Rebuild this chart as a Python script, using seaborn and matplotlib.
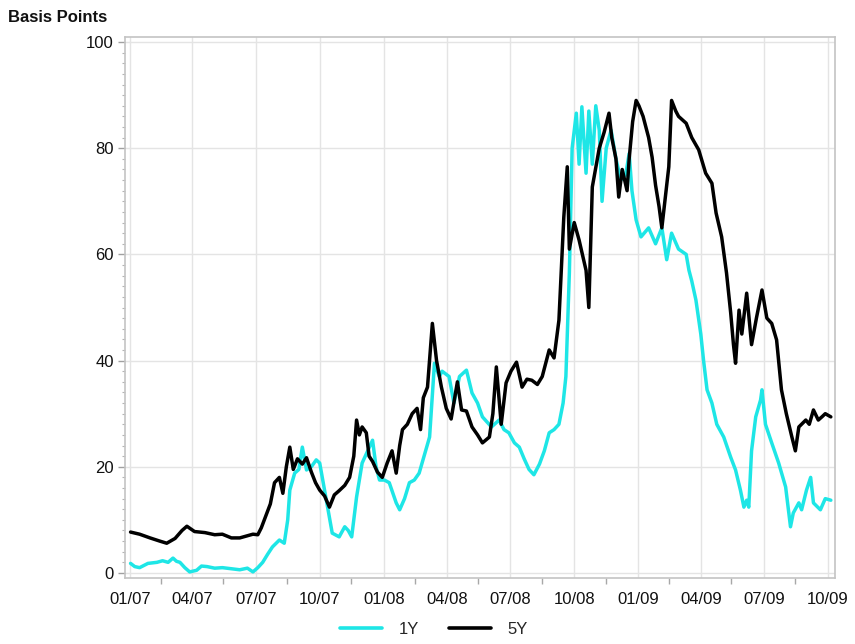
import matplotlib
matplotlib.use("Agg")
import matplotlib.pyplot as plt
import matplotlib.dates as mdates
from matplotlib.ticker import MultipleLocator
import pandas as pd
import seaborn as sns

# 1-year spread, basis points
dates_1y = [
    "2007-01-02", "2007-01-08", "2007-01-15", "2007-01-27", "2007-02-09", "2007-02-17",
    "2007-02-25", "2007-03-04", "2007-03-09", "2007-03-14", "2007-03-21", "2007-03-28",
    "2007-04-07", "2007-04-14", "2007-04-22", "2007-05-03", "2007-05-14", "2007-05-27",
    "2007-06-08", "2007-06-19", "2007-06-27", "2007-07-04", "2007-07-11", "2007-07-18",
    "2007-07-25", "2007-08-04", "2007-08-11", "2007-08-16", "2007-08-19", "2007-08-26",
    "2007-09-01", "2007-09-06", "2007-09-12", "2007-09-19", "2007-09-26", "2007-10-01",
    "2007-10-06", "2007-10-11", "2007-10-19", "2007-10-29", "2007-11-06", "2007-11-11",
    "2007-11-16", "2007-11-23", "2007-12-01", "2007-12-09", "2007-12-16", "2007-12-21",
    "2007-12-26", "2008-01-02", "2008-01-09", "2008-01-19", "2008-01-24", "2008-01-31",
    "2008-02-07", "2008-02-14", "2008-02-21", "2008-02-28", "2008-03-07", "2008-03-14",
    "2008-03-21", "2008-03-25", "2008-04-04", "2008-04-11", "2008-04-19", "2008-04-29",
    "2008-05-07", "2008-05-15", "2008-05-22", "2008-06-04", "2008-06-15", "2008-06-22",
    "2008-06-29", "2008-07-07", "2008-07-14", "2008-07-21", "2008-07-28", "2008-08-04",
    "2008-08-12", "2008-08-19", "2008-08-26", "2008-09-02", "2008-09-09", "2008-09-15",
    "2008-09-19", "2008-09-24", "2008-09-28", "2008-10-04", "2008-10-08", "2008-10-12",
    "2008-10-18", "2008-10-22", "2008-10-27", "2008-11-01", "2008-11-06", "2008-11-10",
    "2008-11-16", "2008-11-23", "2008-11-30", "2008-12-07", "2008-12-14", "2008-12-19",
    "2008-12-23", "2008-12-29", "2009-01-05", "2009-01-16", "2009-01-26", "2009-02-04",
    "2009-02-11", "2009-02-18", "2009-02-28", "2009-03-11", "2009-03-15", "2009-03-19",
    "2009-03-25", "2009-04-01", "2009-04-05", "2009-04-10", "2009-04-17", "2009-04-24",
    "2009-05-04", "2009-05-14", "2009-05-21", "2009-05-28", "2009-06-02", "2009-06-06",
    "2009-06-09", "2009-06-13", "2009-06-19", "2009-06-26", "2009-06-28", "2009-07-03",
    "2009-07-12", "2009-07-22", "2009-08-01", "2009-08-05", "2009-08-08", "2009-08-12",
    "2009-08-20", "2009-08-24", "2009-08-31", "2009-09-06", "2009-09-10", "2009-09-20",
    "2009-09-27", "2009-10-05",
]
values_1y = [
    1.8, 1.2, 1.0, 1.8, 2.0, 2.3,
    2.0, 2.8, 2.2, 2.0, 1.0, 0.2,
    0.5, 1.3, 1.2, 0.9, 1.0, 0.8,
    0.6, 0.9, 0.2, 1.0, 2.0, 3.5,
    4.9, 6.2, 5.6, 10.0, 15.6, 18.8,
    19.5, 23.7, 19.4, 20.0, 21.3, 20.7,
    17.0, 13.2, 7.5, 6.8, 8.7, 8.0,
    6.8, 14.3, 20.7, 23.0, 25.0, 20.0,
    17.5, 17.5, 17.0, 13.2, 11.9, 14.0,
    17.0, 17.5, 18.8, 22.0, 25.6, 39.5,
    37.0, 38.0, 37.0, 32.0, 37.0, 38.2,
    33.9, 32.0, 29.4, 27.5, 28.8, 27.0,
    26.4, 24.5, 23.7, 21.5, 19.5, 18.5,
    20.5, 23.0, 26.4, 27.0, 28.0, 32.0,
    37.0, 56.5, 80.0, 86.6, 77.0, 87.8,
    75.3, 87.0, 77.0, 88.0, 83.4, 70.0,
    80.0, 83.4, 78.0, 74.0, 75.0, 79.0,
    72.0, 66.5, 63.3, 65.0, 62.0, 65.0,
    59.0, 64.0, 61.0, 60.0, 57.0, 55.0,
    51.4, 45.0, 40.0, 34.5, 32.0, 28.0,
    25.6, 21.8, 19.4, 15.6, 12.4, 13.7,
    12.4, 23.0, 29.4, 32.6, 34.5, 28.0,
    24.5, 20.7, 16.2, 12.0, 8.7, 11.3,
    13.2, 11.9, 15.6, 18.0, 13.2, 11.9,
    14.0, 13.7,
]

# 5-year spread, basis points
dates_5y = [
    "2007-01-02", "2007-01-15", "2007-01-30", "2007-02-13", "2007-02-23", "2007-03-07",
    "2007-03-17", "2007-03-24", "2007-04-04", "2007-04-19", "2007-05-03", "2007-05-14",
    "2007-05-27", "2007-06-08", "2007-06-19", "2007-06-27", "2007-07-04", "2007-07-09",
    "2007-07-17", "2007-07-22", "2007-07-28", "2007-08-04", "2007-08-09", "2007-08-14",
    "2007-08-19", "2007-08-24", "2007-08-30", "2007-09-06", "2007-09-12", "2007-09-19",
    "2007-09-25", "2007-10-01", "2007-10-08", "2007-10-15", "2007-10-22", "2007-10-29",
    "2007-11-06", "2007-11-13", "2007-11-19", "2007-11-23", "2007-11-27", "2007-12-01",
    "2007-12-07", "2007-12-11", "2007-12-16", "2007-12-23", "2007-12-30", "2008-01-06",
    "2008-01-13", "2008-01-19", "2008-01-24", "2008-01-28", "2008-02-04", "2008-02-11",
    "2008-02-18", "2008-02-23", "2008-02-27", "2008-03-04", "2008-03-11", "2008-03-17",
    "2008-03-24", "2008-03-31", "2008-04-07", "2008-04-16", "2008-04-22", "2008-04-29",
    "2008-05-07", "2008-05-15", "2008-05-22", "2008-06-01", "2008-06-06", "2008-06-11",
    "2008-06-18", "2008-06-25", "2008-07-02", "2008-07-10", "2008-07-18", "2008-07-25",
    "2008-08-01", "2008-08-09", "2008-08-16", "2008-08-26", "2008-09-02", "2008-09-09",
    "2008-09-16", "2008-09-21", "2008-09-24", "2008-10-01", "2008-10-08", "2008-10-18",
    "2008-10-22", "2008-10-27", "2008-11-06", "2008-11-13", "2008-11-20", "2008-11-24",
    "2008-11-30", "2008-12-04", "2008-12-09", "2008-12-16", "2008-12-19", "2008-12-24",
    "2008-12-29", "2009-01-02", "2009-01-08", "2009-01-12", "2009-01-16", "2009-01-21",
    "2009-01-26", "2009-01-31", "2009-02-04", "2009-02-10", "2009-02-14", "2009-02-18",
    "2009-02-24", "2009-02-28", "2009-03-11", "2009-03-19", "2009-03-29", "2009-04-08",
    "2009-04-17", "2009-04-23", "2009-05-01", "2009-05-08", "2009-05-14", "2009-05-18",
    "2009-05-21", "2009-05-26", "2009-05-30", "2009-06-06", "2009-06-13", "2009-06-20",
    "2009-06-28", "2009-07-05", "2009-07-12", "2009-07-19", "2009-07-26", "2009-08-02",
    "2009-08-10", "2009-08-15", "2009-08-20", "2009-08-30", "2009-09-04", "2009-09-10",
    "2009-09-17", "2009-09-23", "2009-09-27", "2009-10-05",
]
values_5y = [
    7.7, 7.3, 6.6, 6.0, 5.6, 6.5,
    8.0, 8.8, 7.8, 7.6, 7.2, 7.3,
    6.6, 6.6, 7.0, 7.3, 7.2, 8.5,
    11.3, 13.0, 17.0, 18.0, 15.0, 20.0,
    23.7, 19.5, 21.5, 20.5, 21.7, 19.0,
    17.0, 15.6, 14.5, 12.4, 14.7, 15.5,
    16.5, 18.0, 22.0, 28.8, 26.0, 27.5,
    26.4, 22.0, 21.0, 19.0, 18.0, 20.7,
    23.0, 18.8, 24.0, 27.0, 28.0, 30.0,
    31.0, 27.0, 33.0, 35.0, 47.0, 40.0,
    35.0, 31.0, 29.0, 36.0, 30.7, 30.5,
    27.5, 26.0, 24.5, 25.6, 30.0, 38.8,
    28.0, 35.8, 38.0, 39.7, 35.0, 36.5,
    36.3, 35.5, 37.0, 42.0, 40.5, 47.6,
    67.0, 76.5, 61.0, 66.0, 62.7, 57.0,
    50.0, 72.7, 80.0, 83.0, 86.6, 82.0,
    78.0, 70.8, 76.0, 72.0, 78.0, 85.0,
    89.0, 88.0, 86.0, 84.0, 82.0, 78.3,
    73.0, 69.0, 65.0, 72.0, 76.5, 89.0,
    87.0, 86.0, 84.7, 82.0, 79.7, 75.3,
    73.4, 67.8, 63.3, 56.5, 49.0, 43.0,
    39.5, 49.5, 45.0, 52.7, 43.0, 48.0,
    53.3, 48.0, 47.0, 43.9, 34.5, 30.0,
    25.6, 23.0, 27.5, 28.8, 28.0, 30.7,
    28.8, 29.5, 30.0, 29.4,
]

series_names = ["1Y", "5Y"]
series_colors = {"1Y": "#1ee6e6", "5Y": "#000000"}
y_ticks = [0, 20, 40, 60, 80, 100]

frames = []
for name, d, v in (("1Y", dates_1y, values_1y), ("5Y", dates_5y, values_5y)):
    frames.append(pd.DataFrame({"date": pd.to_datetime(d), "bp": v, "series": name}))
df = pd.concat(frames, ignore_index=True)

sns.set_style("white")
plt.rcParams["font.family"] = ["Liberation Sans", "DejaVu Sans"]

fig = plt.figure(figsize=(8.55, 6.44), dpi=100)
ax = fig.add_axes([125 / 855, 1 - 578 / 644, 710 / 855, 541 / 644])

sns.lineplot(data=df, x="date", y="bp", hue="series", hue_order=series_names,
             palette=series_colors, estimator=None, linewidth=2.5, ax=ax)

ax.set_xlim(pd.Timestamp("2006-12-25"), pd.Timestamp("2009-10-11"))
ax.set_ylim(-0.95, 100.95)

# quarterly gridlines with labels; small ticks at mid-quarter
ax.xaxis.set_major_locator(mdates.MonthLocator(bymonth=(1, 4, 7, 10)))
ax.xaxis.set_major_formatter(mdates.DateFormatter("%m/%y"))
ax.xaxis.set_minor_locator(mdates.MonthLocator(bymonth=(2, 5, 8, 11), bymonthday=15))
ax.tick_params(axis="x", which="both", bottom=True)
ax.tick_params(axis="x", which="major", length=0, pad=10, labelsize=12, labelcolor="#111111")
ax.tick_params(axis="x", which="minor", length=4, width=1, color="#a8a8a8", direction="out")

ax.set_yticks(y_ticks)
ax.yaxis.set_minor_locator(MultipleLocator(2))
ax.tick_params(axis="y", which="both", left=True, direction="out")
ax.tick_params(axis="y", which="major", length=5, width=1, color="#a0a0a0", pad=3,
               labelsize=12, labelcolor="#111111")
ax.tick_params(axis="y", which="minor", length=2.5, width=0.8, color="#b4b4b4")

ax.grid(True, which="major", color="#e4e4e4", linewidth=1)
ax.grid(False, which="minor")
for s in ax.spines.values():
    s.set_color("#c4c4c4")
    s.set_linewidth(1.2)

ax.set_xlabel("")
ax.set_ylabel("")
fig.text(8 / 855, 1 - 18 / 644, "Basis Points", fontsize=12, fontweight="bold",
         ha="left", va="center", color="#111111")

leg = ax.legend(loc="center", bbox_to_anchor=(0.435, -0.095), ncol=2, frameon=False,
                fontsize=12, handlelength=2.5, handletextpad=1.0, columnspacing=1.8)
for line in leg.get_lines():
    line.set_linewidth(2.6)

fig.savefig("out.png", dpi=100)
